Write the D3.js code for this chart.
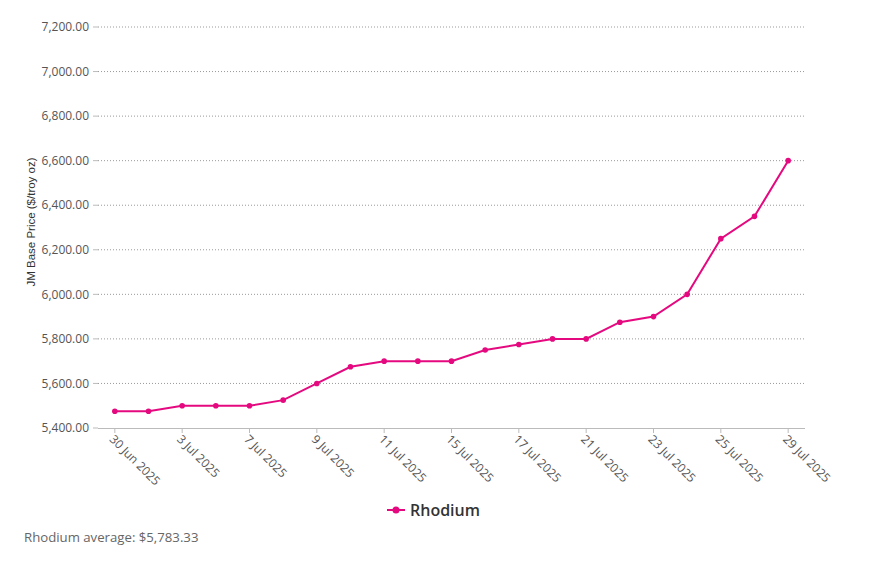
<!DOCTYPE html>
<html><head><meta charset="utf-8">
<script src="https://cdn.jsdelivr.net/npm/d3@7"></script>
<style>body{margin:0;background:#fff;font-family:"Open Sans","Noto Sans",sans-serif;}</style>
</head><body><svg id="c" width="869" height="573"></svg>
<script>
const dates = ["30 Jun 2025","1 Jul 2025","3 Jul 2025","4 Jul 2025","7 Jul 2025","8 Jul 2025","9 Jul 2025","10 Jul 2025","11 Jul 2025","14 Jul 2025","15 Jul 2025","16 Jul 2025","17 Jul 2025","18 Jul 2025","21 Jul 2025","22 Jul 2025","23 Jul 2025","24 Jul 2025","25 Jul 2025","28 Jul 2025","29 Jul 2025"];
const rhodium = [5475,5475,5500,5500,5500,5525,5600,5675,5700,5700,5700,5750,5775,5800,5800,5875,5900,6000,6250,6350,6600];
const yTicks = [5400,5600,5800,6000,6200,6400,6600,6800,7000,7200];
const seriesName = "Rhodium";
const color = "#e5097f";

const svg = d3.select("#c");
const L=98, R=805, T=27, B=428;
const x = d3.scaleBand().domain(dates).range([L,R]);
const y = d3.scaleLinear().domain([5400,7200]).range([B,T]);
const fmt = d3.format(",.2f");

// grid
svg.append("g").selectAll("line").data(yTicks.filter(d=>d!==5400)).join("line")
  .attr("x1",L).attr("x2",R).attr("y1",d=>y(d)).attr("y2",d=>y(d))
  .attr("stroke","#999").attr("stroke-dasharray","1,2").attr("stroke-width",1);
// y tick marks + labels
const yg = svg.append("g");
yg.selectAll("line").data(yTicks).join("line")
  .attr("x1",L-5).attr("x2",L).attr("y1",d=>y(d)).attr("y2",d=>y(d)).attr("stroke","#bbb");
yg.selectAll("text").data(yTicks).join("text")
  .attr("x",L-9).attr("y",d=>y(d)).attr("dy","0.35em").attr("text-anchor","end")
  .attr("font-size",12).attr("fill","#555").text(d=>fmt(d));
// x axis
svg.append("line").attr("x1",L).attr("x2",R).attr("y1",B+0.5).attr("y2",B+0.5).attr("stroke","#bbb");
const xt = dates.filter((d,i)=>i%2===0);
const xg = svg.append("g");
xg.selectAll("line").data(xt).join("line")
  .attr("x1",d=>x(d)+x.bandwidth()/2).attr("x2",d=>x(d)+x.bandwidth()/2)
  .attr("y1",B).attr("y2",B+5).attr("stroke","#bbb");
xg.selectAll("text").data(xt).join("text")
  .attr("transform",d=>`translate(${x(d)+x.bandwidth()/2-3},${B+9}) rotate(45)`)
  .attr("dy","0.35em").attr("font-size",12).attr("fill","#555").text(d=>d);
// y label
svg.append("text").attr("transform",`translate(35,222) rotate(-90)`)
  .attr("text-anchor","middle").attr("font-size",11.5).attr("fill","#333")
  .attr("font-family","'Liberation Sans',Arial,sans-serif")
  .text("JM Base Price ($/troy oz)");
// line
const cx = d=>x(d)+x.bandwidth()/2;
svg.append("path").datum(rhodium)
  .attr("d",d3.line().x((d,i)=>cx(dates[i])).y(d=>y(d)))
  .attr("fill","none").attr("stroke",color).attr("stroke-width",2);
svg.append("g").selectAll("circle").data(rhodium).join("circle")
  .attr("cx",(d,i)=>cx(dates[i])).attr("cy",d=>y(d)).attr("r",2.8).attr("fill",color);
// legend
const lg = svg.append("g").attr("transform","translate(387,510)");
lg.append("line").attr("x1",0).attr("x2",18).attr("y1",0).attr("y2",0).attr("stroke",color).attr("stroke-width",2);
lg.append("circle").attr("cx",9).attr("cy",0).attr("r",3.5).attr("fill",color);
lg.append("text").attr("x",23).attr("dy","0.35em").attr("font-size",16).attr("font-weight",600).attr("fill","#333").text(seriesName);
// average
const avg = d3.mean(rhodium);
svg.append("text").attr("x",24).attr("y",537).attr("dy","0.35em").attr("font-size",13.2).attr("fill","#666")
  .text(`${seriesName} average: $${d3.format(",.2f")(avg)}`);
</script></body></html>
